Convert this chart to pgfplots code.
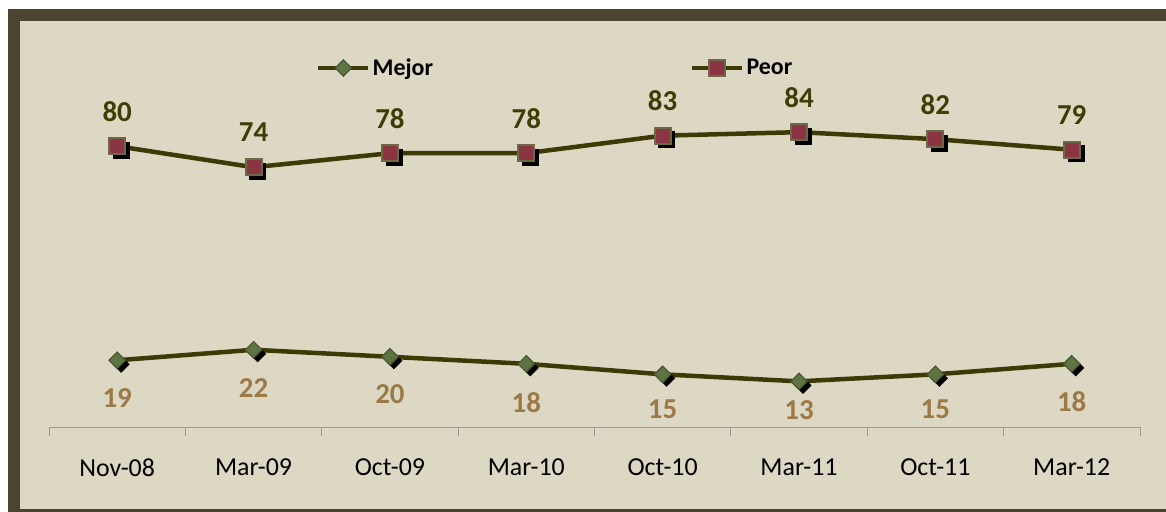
\documentclass[border=0pt]{standalone}
\usepackage{fontspec}
\setmainfont{Carlito}
\usepackage{pgfplots}
\usepackage{pgfplotstable}
\pgfplotsset{compat=1.18}
\definecolor{bg}{HTML}{DDD8C4}
\definecolor{framec}{HTML}{4B4430}
\definecolor{ln}{HTML}{3D3A06}
\definecolor{lblp}{HTML}{3F3C06}
\definecolor{lblm}{HTML}{9C7A48}
\definecolor{mfill}{HTML}{5E7444}
\definecolor{medge}{HTML}{4A5A30}
\definecolor{pfill}{HTML}{8A3444}
\definecolor{pedge}{HTML}{6E6844}
\pgfplotstableread{
x y off
0 19 38
1 22 38
2 20 37
3 18 39
4 15 35
5 13 29
6 15 35
7 18 38
}\mejor
\pgfplotstableread{
x y
0 80
1 74
2 78
3 78
4 83
5 84
6 82
7 79
}\peor
\begin{document}
\begin{tikzpicture}[x=1bp,y=1bp]
\fill[white] (0,0) rectangle (1166,512);
\fill[bg] (8,0) rectangle (1166,503);
\fill[framec] (8,491) rectangle (1166,503);
\fill[framec] (8,0) rectangle (20,503);
\fill[framec] (8,0) rectangle (1166,2.5);
\begin{axis}[
  at={(49bp,85bp)}, anchor=south west, scale only axis,
  width=1091bp, height=351bp,
  xmin=-0.5, xmax=7.5, ymin=0, ymax=100,
  clip=false,
  axis x line*=bottom, axis y line=none,
  axis line style={color=gray!80, line width=0.8bp},
  xtick={0,...,7},
  xticklabels={Nov-08,Mar-09,Oct-09,Mar-10,Oct-10,Mar-11,Oct-11,Mar-12},
  major tick length=0pt,
  minor xtick={-0.5,0.5,...,7.5},
  minor tick length=9bp,
  tick align=outside,
  minor tick style={color=gray!80, line width=0.8bp},
  xticklabel style={font=\fontsize{26}{30}\selectfont, text=black, yshift=-28bp},
  /pgf/number format/assume math mode=true,
  legend columns=2,
  legend style={at={(0.2447,1.0228)}, anchor=west, draw=none, fill=none, inner sep=0pt,
    font=\bfseries\fontsize{24}{28}\selectfont, text=black,
    /tikz/every even column/.append style={column sep=255bp}},
  legend cell align=left,
]
% Mejor
\addplot[ln, line width=4.5bp, forget plot] table[x=x,y=y] {\mejor};
\addplot[only marks, mark=square*, forget plot, mark size=5.8bp, mark options={xshift=4bp,yshift=-4bp,rotate=45,fill=black,draw=black}] table[x=x,y=y] {\mejor};
\addplot[only marks, mark=square*, mark size=5.8bp, mark options={rotate=45,fill=mfill,draw=medge,line width=1.2bp},
  visualization depends on={\thisrow{off}\as\myoff},
  nodes near coords, nodes near coords style={font=\bfseries\fontsize{29}{33}\selectfont, text=lblm, anchor=center, yshift=-\myoff bp},
  legend image code/.code={\draw[ln,line width=4.5bp] (0bp,0bp)--(50bp,0bp); \draw[mark=square*, mark size=5.8bp, mark options={rotate=45,fill=mfill,draw=medge,line width=1.2bp}] plot coordinates {(25bp,0bp)};}
] table[x=x,y=y] {\mejor};
\addlegendentry{Mejor}
% Peor
\addplot[ln, line width=4.5bp, forget plot] table[x=x,y=y] {\peor};
\addplot[only marks, mark=square*, forget plot, mark size=8bp, mark options={xshift=4bp,yshift=-4bp,fill=black,draw=black}] table[x=x,y=y] {\peor};
\addplot[only marks, mark=square*, mark size=8bp, mark options={fill=pfill,draw=pedge,line width=2bp},
  nodes near coords, nodes near coords style={font=\bfseries\fontsize{29}{33}\selectfont, text=lblp, anchor=center, yshift=35bp},
  legend image code/.code={\draw[ln,line width=4.5bp] (0bp,0bp)--(50bp,0bp); \draw[mark=square*, mark size=8bp, mark options={fill=pfill,draw=pedge,line width=2bp}] plot coordinates {(25bp,0bp)};}
] table[x=x,y=y] {\peor};
\addlegendentry{Peor}
\end{axis}
\end{tikzpicture}
\end{document}
